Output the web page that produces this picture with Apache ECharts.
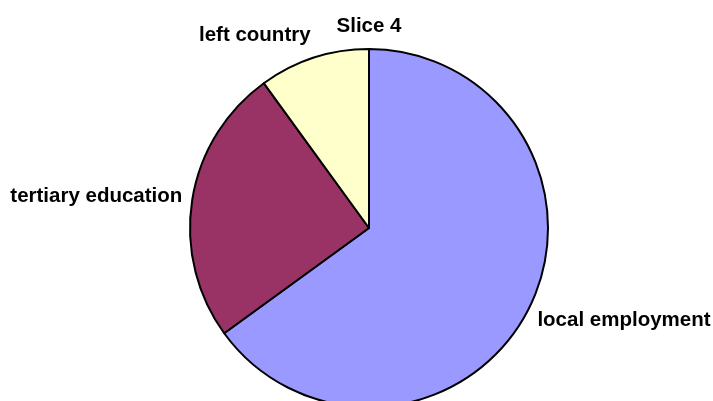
<!DOCTYPE html>
<html><head><meta charset="utf-8">
<script src="https://cdn.jsdelivr.net/npm/echarts@6/dist/echarts.min.js"></script>
<style>html,body{margin:0;padding:0;background:#fff}#c{width:713px;height:401px}</style>
</head><body><div id="c"></div>
<script>
var categories = ['local employment', 'tertiary education', 'left country', 'Slice 4'];
var values = [65, 25, 10, 0];
var colors = ['#9999FF', '#993366', '#FFFFCC', '#FFFFFF'];

var cx = 369, cy = 228, R = 179, gap = 10;
var total = values.reduce(function(a, b){ return a + b; }, 0);
var labels = [];
var acc = 0;
values.forEach(function(v, i){
  var a = (acc + v / 2) / total * 2 * Math.PI;
  acc += v;
  var dx = Math.sin(a), dy = -Math.cos(a);
  var align = dx > 0.3 ? 'left' : (dx < -0.3 ? 'right' : 'center');
  var va = dy > 0.3 ? 'top' : (dy < -0.3 ? 'bottom' : 'middle');
  labels.push({
    type: 'text',
    x: cx + (R + gap) * dx,
    y: cy + (R + gap) * dy - 2 - (va === 'top' ? 2 : 0),
    style: {text: categories[i], fill: '#000', font: 'bold 20.5px "Liberation Sans", Arial, sans-serif', align: align, verticalAlign: va}
  });
});

var chart = echarts.init(document.getElementById('c'), null, {renderer: 'canvas'});
chart.setOption({
  backgroundColor: '#fff',
  animation: false,
  series: [{
    type: 'pie',
    center: [cx, cy],
    radius: [0, R],
    startAngle: 90,
    clockwise: true,
    data: categories.map(function(n, i){ return {name: n, value: values[i], itemStyle: {color: colors[i]}}; }),
    itemStyle: {borderColor: '#000', borderWidth: 2},
    label: {show: false},
    labelLine: {show: false},
    emphasis: {disabled: true}
  }],
  graphic: labels
});
</script></body></html>
